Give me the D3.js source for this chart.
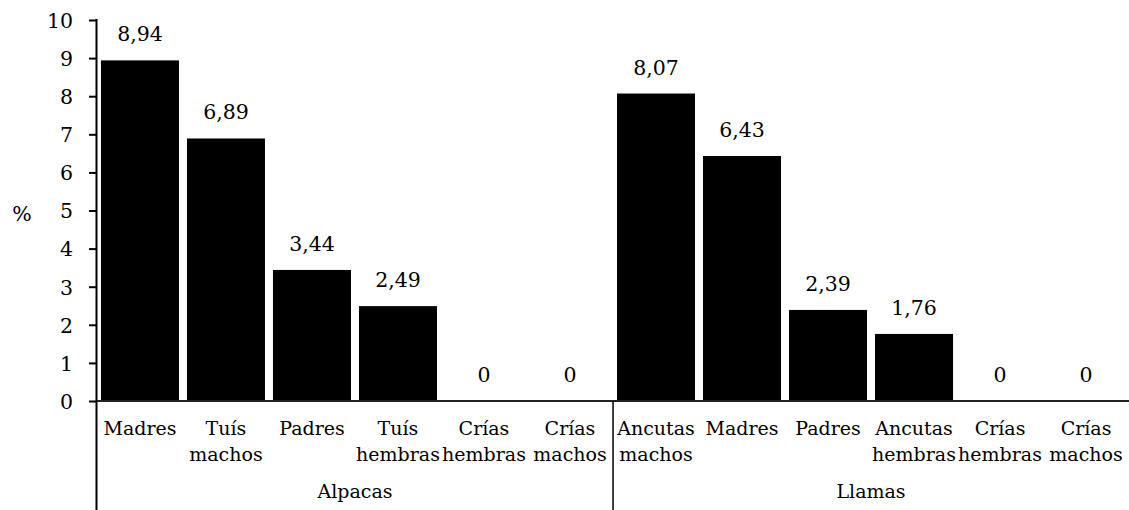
<!DOCTYPE html>
<html>
<head>
<meta charset="utf-8">
<script src="https://cdn.jsdelivr.net/npm/d3@7"></script>
<style>
  body { margin: 0; background: #fff; }
  svg text { font-family: "DejaVu Serif", serif; fill: #000; }
</style>
</head>
<body>
<div id="chart"></div>
<script>
// chart values
var groups = ["Alpacas", "Llamas"];
var alpacaCats = [["Madres"], ["Tuís", "machos"], ["Padres"], ["Tuís", "hembras"], ["Crías", "hembras"], ["Crías", "machos"]];
var alpacaValues = [8.94, 6.89, 3.44, 2.49, 0, 0];
var llamaCats = [["Ancutas", "machos"], ["Madres"], ["Padres"], ["Ancutas", "hembras"], ["Crías", "hembras"], ["Crías", "machos"]];
var llamaValues = [8.07, 6.43, 2.39, 1.76, 0, 0];
var yTicks = [0, 1, 2, 3, 4, 5, 6, 7, 8, 9, 10];

var width = 1129, height = 510;
var plotLeft = 97, plotRight = 1129, plotTop = 20, plotBottom = 401;
var numSize = "20.5px", textSize = "19px";

// flatten into one row per bar
var rows = [];
alpacaCats.forEach(function(c, i){ rows.push({group: groups[0], cat: c, value: alpacaValues[i], key: "a" + i}); });
llamaCats.forEach(function(c, i){ rows.push({group: groups[1], cat: c, value: llamaValues[i], key: "l" + i}); });

var x = d3.scaleBand()
	.domain(rows.map(function(d){ return d.key; }))
	.range([plotLeft, plotRight])
	.paddingInner(0.093)
	.paddingOuter(0.046);

var y = d3.scaleLinear().domain([0, 10]).range([plotBottom, plotTop]);

var locale = d3.formatLocale({decimal: ",", thousands: ".", grouping: [3], currency: ["", ""]});
var fmt = locale.format(".2f");

var svg = d3.select("#chart").append("svg")
	.attr("width", width)
	.attr("height", height);

// bars
svg.append("g").selectAll("rect")
	.data(rows)
	.enter().append("rect")
	.attr("x", function(d){ return x(d.key); })
	.attr("width", x.bandwidth())
	.attr("y", function(d){ return y(d.value); })
	.attr("height", function(d){ return y(0) - y(d.value); })
	.attr("fill", "#000");

// value labels
svg.append("g").selectAll("text")
	.data(rows)
	.enter().append("text")
	.attr("x", function(d){ return x(d.key) + x.bandwidth() / 2; })
	.attr("y", function(d){ return y(d.value) - 19; })
	.attr("text-anchor", "middle")
	.style("font-size", numSize)
	.text(function(d){ return d.value === 0 ? "0" : fmt(d.value); });

// y axis
var yAxis = svg.append("g")
	.attr("transform", "translate(" + plotLeft + ",0)")
	.call(d3.axisLeft(y).tickValues(yTicks).tickSize(8).tickPadding(16).tickFormat(d3.format("d")));
yAxis.select(".domain").remove();
yAxis.selectAll(".tick line").attr("stroke", "#000").attr("stroke-width", 2);
yAxis.selectAll("text").style("font-size", numSize).attr("dy", "0.36em");

// left axis line runs down through the category area
svg.append("line")
	.attr("x1", plotLeft - 0.5).attr("x2", plotLeft - 0.5)
	.attr("y1", plotTop - 1).attr("y2", height)
	.attr("stroke", "#000").attr("stroke-width", 2);

// baseline
svg.append("line")
	.attr("x1", plotLeft).attr("x2", plotRight)
	.attr("y1", y(0)).attr("y2", y(0))
	.attr("stroke", "#222").attr("stroke-width", 2);

// "%" label
svg.append("text")
	.attr("x", 22).attr("y", 221)
	.attr("text-anchor", "middle")
	.style("font-size", numSize)
	.text("%");

// category labels (one or two lines)
var catText = svg.append("g").selectAll("text")
	.data(rows)
	.enter().append("text")
	.attr("text-anchor", "middle")
	.style("font-size", textSize);
catText.each(function(d){
	var t = d3.select(this);
	var cx = x(d.key) + x.bandwidth() / 2;
	d.cat.forEach(function(line, i){
		t.append("tspan").attr("x", cx).attr("y", 435 + i * 26).text(line);
	});
});

// group divider and group labels
var step = x.step();
var splitX = plotLeft + step * alpacaCats.length;
svg.append("line")
	.attr("x1", splitX).attr("x2", splitX)
	.attr("y1", y(0)).attr("y2", height)
	.attr("stroke", "#000").attr("stroke-width", 1.5);

svg.append("g").selectAll("text")
	.data(groups)
	.enter().append("text")
	.attr("x", function(d, i){ return i === 0 ? (plotLeft + splitX) / 2 : (splitX + plotRight) / 2; })
	.attr("y", 498)
	.attr("text-anchor", "middle")
	.style("font-size", textSize)
	.text(function(d){ return d; });
</script>
</body>
</html>
